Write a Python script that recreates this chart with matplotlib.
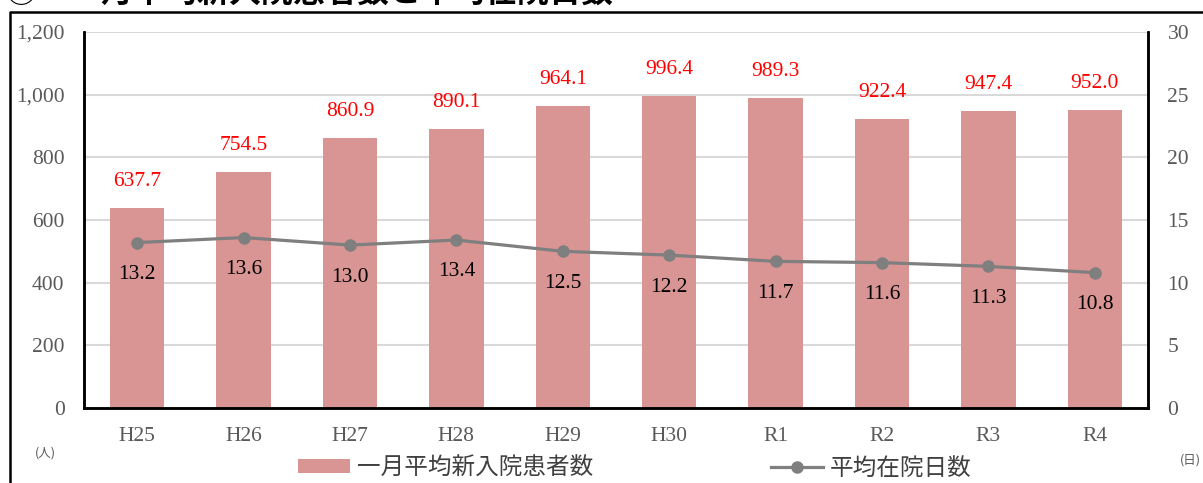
import matplotlib.pyplot as plt
from matplotlib.lines import Line2D

years = ["H25", "H26", "H27", "H28", "H29", "H30", "R1", "R2", "R3", "R4"]
new_patients = [637.7, 754.5, 860.9, 890.1, 964.1, 996.4, 989.3, 922.4, 947.4, 952.0]
avg_days = [13.2, 13.6, 13.0, 13.4, 12.5, 12.2, 11.7, 11.6, 11.3, 10.8]

serif = "Liberation Serif"
jp = "Noto Sans CJK JP"
bar_color = "#D99594"
line_color = "#7F7F7F"

fig = plt.figure(figsize=(12.03, 4.83), dpi=100)
ax = fig.add_axes([84 / 1203, 1 - 408 / 483, 1064 / 1203, 376 / 483])
ax2 = ax.twinx()

x = list(range(len(years)))
bars = ax.bar(x, new_patients, width=0.51, color=bar_color, zorder=2,
              label="一月平均新入院患者数")
for xi, v in zip(x, new_patients):
    ax.annotate(f"{v:.1f}", (xi, v), xytext=(0, 19), textcoords="offset points",
                ha="center", va="center", color="red", fontsize=15.5, family=serif)

ax2.plot(x, avg_days, color=line_color, lw=2.3, marker="o", markersize=8,
         zorder=3, label="平均在院日数")
for xi, v in zip(x, avg_days):
    ax2.annotate(f"{v:.1f}", (xi, v), xytext=(0, -23), textcoords="offset points",
                 ha="center", va="center", color="black", fontsize=15.5, family=serif)

ax.set_xlim(-0.5, len(years) - 0.5)
ax.set_ylim(0, 1200)
ax.set_yticks(range(0, 1201, 200))
ax.set_yticklabels([f"{v:,}" for v in range(0, 1201, 200)])
ax2.set_ylim(0, 30)
ax2.set_yticks(range(0, 31, 5))

ax.set_xticks(x)
ax.set_xticklabels(years)
ax.yaxis.grid(True, color="#D9D9D9", lw=1.5, zorder=0)
ax.set_axisbelow(True)

for a in (ax, ax2):
    a.tick_params(length=0, labelsize=15.5, labelcolor="#595959")
    for lab in a.get_xticklabels() + a.get_yticklabels():
        lab.set_family(serif)
    a.spines["top"].set_visible(False)
    for s in ("left", "right", "bottom"):
        a.spines[s].set_linewidth(1.8)
        a.spines[s].set_color("black")
ax.tick_params(axis="y", pad=14)
ax.tick_params(axis="x", pad=14)
ax2.tick_params(axis="y", pad=14)

fig.text(45 / 1203, 1 - 453 / 483, "(人)", family=jp, fontsize=9, color="#595959",
         ha="center", va="center")
fig.text(1190 / 1203, 1 - 460 / 483, "(日)", family=jp, fontsize=9, color="#595959",
         ha="center", va="center")

handles = [bars, Line2D([], [], color=line_color, lw=2.3, marker="o", markersize=8)]
leg = fig.legend(handles, ["一月平均新入院患者数", "平均在院日数"], loc="center",
                 bbox_to_anchor=(635 / 1203, 1 - 468 / 483), ncol=2, frameon=False,
                 prop={"family": jp, "size": 17}, columnspacing=7.5, handlelength=2.2,
                 handleheight=0.55, handletextpad=0.3, labelcolor="#404040",
                 borderpad=0, borderaxespad=0)

# outer frame of the original document box
fig.add_artist(Line2D([10 / 1203, 10 / 1203, 1.01], [-0.01, 1 - 12 / 483, 1 - 12 / 483],
                      transform=fig.transFigure, color="black", lw=1.8))
# title, cut off at the top edge
fig.text(5 / 1203, 1 - 9 / 483, "③", family=jp, fontsize=22, fontweight="bold",
         va="bottom", ha="left")
fig.text(70 / 1203, 1 - 9 / 483, "一月平均新入院患者数と平均在院日数", family=jp,
         fontsize=23, fontweight="bold", va="bottom", ha="left")

fig.savefig("out.png", dpi=100)
